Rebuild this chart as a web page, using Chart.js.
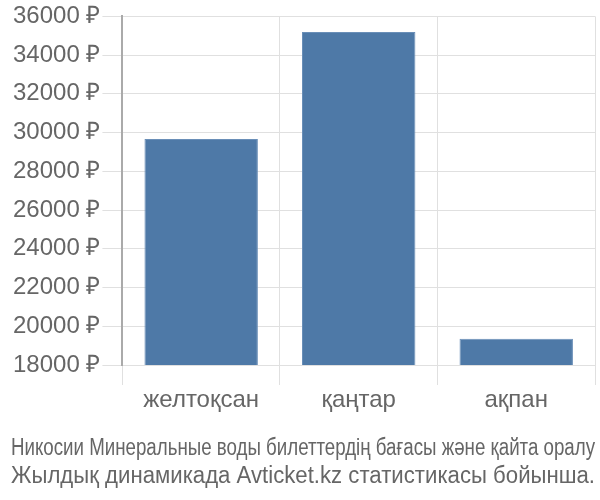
<!DOCTYPE html>
<html><head><meta charset="utf-8">
<script src="https://cdn.jsdelivr.net/npm/chart.js@4/dist/chart.umd.min.js"></script>
<style>html,body{margin:0;padding:0;background:#fff}#wrap{width:600px;height:500px}</style>
</head><body><div id="wrap"><canvas id="c"></canvas></div>
<script>
const categories = ["желтоқсан", "қаңтар", "ақпан"];
const prices = [29670, 35190, 19350];
const titleLines = ["Никосии Минеральные воды билеттердің бағасы және қайта оралу", "Жылдық динамикада Avticket.kz статистикасы бойынша."];
const yMin = 18000, yMax = 36000, yStep = 2000;

new Chart(document.getElementById('c'), {
  type: 'bar',
  data: { labels: categories, datasets: [{ data: prices, backgroundColor: '#4e79a7', borderColor: '#6a8fb8', borderWidth: 1 }] },
  options: {
    responsive: true, maintainAspectRatio: false, animation: false,
    layout: { padding: { left: 11, right: 5, top: 1, bottom: 10 } },
    plugins: {
      legend: { display: false }, tooltip: { enabled: false },
      title: { display: true, position: 'bottom', text: titleLines, color: '#666',
        font: { family: 'Liberation Sans, Arial, sans-serif', size: 23, weight: 'normal' }, padding: { top: 19, bottom: 0 }, lineHeight: 1.2 }
    },
    scales: {
      x: { grid: { offset: true, color: '#e0e0e0', tickLength: 20 }, border: { color: '#e0e0e0' },
        ticks: { color: '#666', padding: 1, font: { family: 'Liberation Sans, Arial, sans-serif', size: 24 } } },
      y: { min: yMin, max: yMax, grid: { color: '#e0e0e0', tickLength: 20 }, border: { color: '#aaa', width: 2 },
        ticks: { stepSize: yStep, color: '#666', padding: 2, font: { family: 'Liberation Sans, Arial, sans-serif', size: 24 },
          callback: v => v + ' ₽' } }
    }
  }
});
</script></body></html>
